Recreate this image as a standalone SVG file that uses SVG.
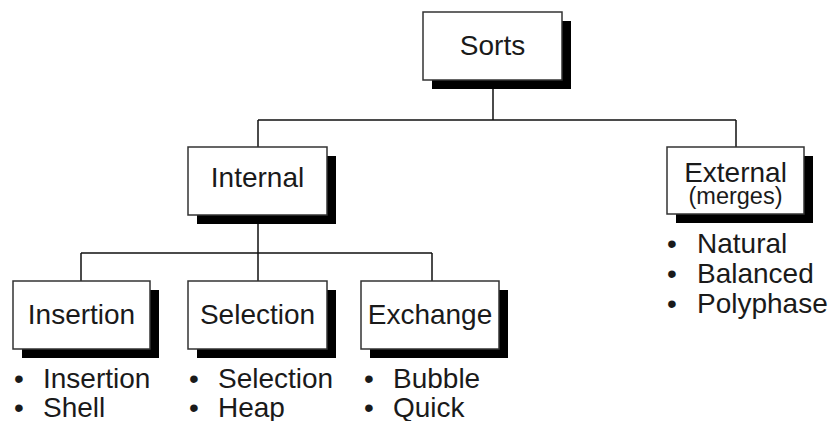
<svg xmlns="http://www.w3.org/2000/svg" width="834" height="421" viewBox="0 0 834 421">
<style>
.shadow{fill:#000}
.box{fill:#fff;stroke:#333;stroke-width:1.5}
.lbl{font-family:"Liberation Sans",Arial,sans-serif;font-size:28px;fill:#1a1a1a;text-anchor:middle}
.sm{font-size:23.5px}
.item{font-family:"Liberation Sans",Arial,sans-serif;font-size:28px;fill:#1a1a1a}
.bul{font-family:"Liberation Sans",Arial,sans-serif;font-size:28px;fill:#1a1a1a;text-anchor:middle}
.conn{fill:none;stroke:#111;stroke-width:1.5}
</style>
<rect width="834" height="421" fill="#fff"/>
<g id="connectors">
<path class="conn" d="M493 89V120M258 120H736M258 120V147M736 120V147"/>
<path class="conn" d="M258 224V253M81 253H432M81 253V281M258 253V281M432 253V281"/>
</g>
<g id="sorts">
<rect class="shadow" x="432" y="21" width="139" height="68"/>
<rect class="box" x="423" y="12" width="139" height="68"/>
<text class="lbl" x="492.5" y="55">Sorts</text>
</g>
<g id="internal">
<rect class="shadow" x="197" y="156" width="139" height="68"/>
<rect class="box" x="188" y="147" width="139" height="68"/>
<text class="lbl" x="257.5" y="187">Internal</text>
</g>
<g id="external">
<rect class="shadow" x="676" y="156" width="137" height="67"/>
<rect class="box" x="667" y="147" width="137" height="67"/>
<text class="lbl" x="735.5" y="182">External</text>
<text class="lbl sm" x="735.5" y="204">(merges)</text>
<text class="bul" x="672" y="253">•</text><text class="item" x="697" y="253">Natural</text>
<text class="bul" x="672" y="283">•</text><text class="item" x="697" y="283">Balanced</text>
<text class="bul" x="672" y="313">•</text><text class="item" x="697" y="313">Polyphase</text>
</g>
<g id="insertion">
<rect class="shadow" x="22" y="290" width="137" height="68"/>
<rect class="box" x="13" y="281" width="137" height="68"/>
<text class="lbl" x="81.5" y="324">Insertion</text>
<text class="bul" x="19" y="388">•</text><text class="item" x="43" y="388">Insertion</text>
<text class="bul" x="19" y="417">•</text><text class="item" x="43" y="417">Shell</text>
</g>
<g id="selection">
<rect class="shadow" x="197" y="290" width="139" height="68"/>
<rect class="box" x="188" y="281" width="139" height="68"/>
<text class="lbl" x="257.5" y="324">Selection</text>
<text class="bul" x="194" y="388">•</text><text class="item" x="218" y="388">Selection</text>
<text class="bul" x="194" y="417">•</text><text class="item" x="218" y="417">Heap</text>
</g>
<g id="exchange">
<rect class="shadow" x="370" y="290" width="138" height="68"/>
<rect class="box" x="361" y="281" width="138" height="68"/>
<text class="lbl" x="430" y="324">Exchange</text>
<text class="bul" x="369" y="388">•</text><text class="item" x="393" y="388">Bubble</text>
<text class="bul" x="369" y="417">•</text><text class="item" x="393" y="417">Quick</text>
</g>
</svg>
